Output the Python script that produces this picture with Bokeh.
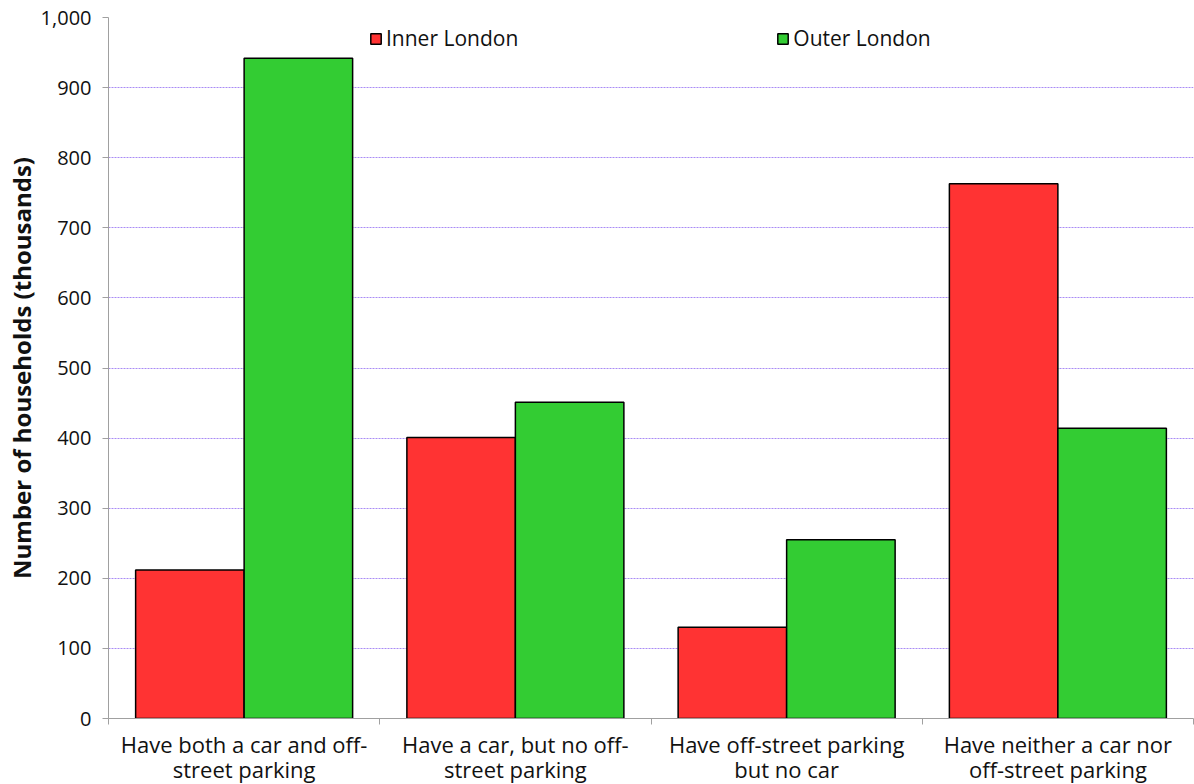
from bokeh.plotting import figure
from bokeh.models import FixedTicker, NumeralTickFormatter, Legend, LegendItem, ColumnDataSource
from bokeh.embed import file_html
from bokeh.resources import INLINE

categories = ["Have both a car and off-\nstreet parking",
              "Have a car, but no off-\nstreet parking",
              "Have off-street parking\nbut no car",
              "Have neither a car nor\noff-street parking"]
inner_london = [212, 401, 130, 763]
outer_london = [942, 451, 255, 414]
y_ticks = [0, 100, 200, 300, 400, 500, 600, 700, 800, 900, 1000]

FONT = "Open Sans"
n = len(categories)
centers = [i + 0.5 for i in range(n)]

p = figure(frame_width=1085, frame_height=701, x_range=(0, n), y_range=(0, 1000),
           output_backend="svg", toolbar_location=None,
           min_border_left=108, min_border_top=17, min_border_bottom=20, min_border_right=1)
p.outline_line_color = None

src_in = ColumnDataSource(dict(x=[c - 0.2 for c in centers], top=inner_london))
src_out = ColumnDataSource(dict(x=[c + 0.2 for c in centers], top=outer_london))
r_in = p.vbar(x="x", top="top", width=0.4, bottom=0, source=src_in,
              fill_color="#FF3333", line_color="black", line_width=1.5)
r_out = p.vbar(x="x", top="top", width=0.4, bottom=0, source=src_out,
               fill_color="#33CC33", line_color="black", line_width=1.5)

# x axis
xa = p.xaxis[0]
xa.ticker = FixedTicker(ticks=centers, minor_ticks=list(range(n + 1)))
xa.major_label_overrides = {c: lab for c, lab in zip(centers, categories)}
xa.major_tick_line_color = None
xa.minor_tick_line_color = "#a0a0a0"
xa.minor_tick_out = 6
xa.minor_tick_in = 0
xa.axis_line_color = "#a0a0a0"
xa.major_label_text_font = FONT
xa.major_label_text_font_size = "22px"
xa.major_label_text_color = "#111111"
xa.major_label_text_line_height = 0.85
xa.major_label_standoff = 4
p.xgrid.grid_line_color = None

# y axis
ya = p.yaxis[0]
ya.ticker = FixedTicker(ticks=y_ticks)
ya.formatter = NumeralTickFormatter(format="0,0")
ya.minor_tick_line_color = None
ya.major_tick_line_color = "#a0a0a0"
ya.major_tick_out = 6
ya.major_tick_in = 0
ya.axis_line_color = "#a0a0a0"
ya.major_label_text_font = FONT
ya.major_label_text_font_size = "20px"
ya.major_label_text_color = "#111111"
ya.major_label_standoff = 11
ya.axis_label = "Number of households (thousands)"
ya.axis_label_text_font = FONT
ya.axis_label_text_font_size = "24px"
ya.axis_label_text_font_style = "bold"
ya.axis_label_text_color = "#111111"
ya.axis_label_standoff = 0

p.ygrid.ticker = FixedTicker(ticks=y_ticks)
p.ygrid.grid_line_color = "#A98BF5"
p.ygrid.grid_line_dash = "2 1"
p.ygrid.grid_line_width = 1

legend = Legend(items=[LegendItem(label="Inner London", renderers=[r_in]),
                       LegendItem(label="Outer London", renderers=[r_out])],
                orientation="horizontal", location=(261, 666),
                spacing=258, glyph_width=13, glyph_height=13,
                label_text_font=FONT, label_text_font_size="21px",
                label_text_color="#111111", label_standoff=4,
                background_fill_alpha=0, border_line_color=None,
                padding=0, margin=0)
p.add_layout(legend)

open("out.html", "w").write(file_html(p, INLINE))
